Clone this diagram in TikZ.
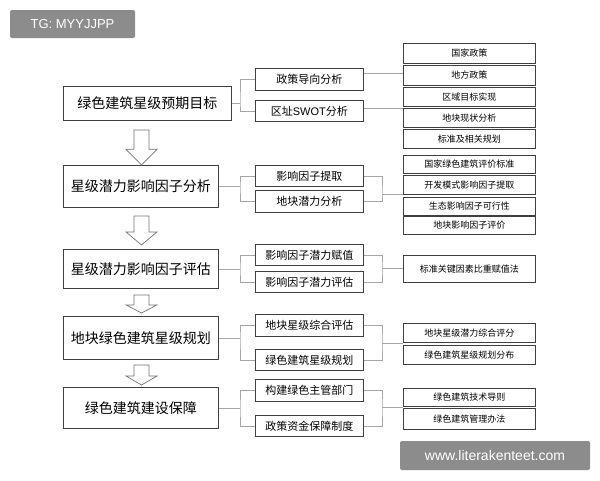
\documentclass[tikz,border=0pt]{standalone}
\usepackage{fontspec}
\setmainfont{Noto Sans CJK SC}
\newfontfamily\lat{Liberation Sans}
\begin{document}
\begin{tikzpicture}[x=1pt,y=-1pt,
  bx/.style={draw=black!75,line width=0.8pt,fill=white,inner sep=0pt,anchor=north west},
  ln/.style={draw=black!35,line width=0.7pt},
  harrow/.style={draw=black!55,line width=0.7pt,fill=white}]
\useasboundingbox (0,0) rectangle (600,480);
\fill[white] (0,0) rectangle (600,480);
\newcommand\mybox[6]{\node[bx,minimum width=#3-#1,minimum height=#4-#2,font=\fontsize{#6}{#6}\selectfont] (#5) at (#1,#2) {};}
% main boxes
\foreach \n/\ya/\yb/\xb/\t in {m1/86/120/231/绿色建筑星级预期目标,m2/165/207/218/星级潜力影响因子分析,m3/249/288/218/星级潜力影响因子评估,m4/316/359/218/地块绿色建筑星级规划,m5/387/428/218/绿色建筑建设保障}
  {\node[bx,minimum width=\xb-63,minimum height=\yb-\ya,font=\fontsize{14}{14}\selectfont] (\n) at (63,\ya) {\t};}
% middle boxes
\foreach \n/\ya/\yb/\t in {a1/68/90/政策导向分析,a2/100/121/区址{\lat SWOT}分析,b1/165/186/影响因子提取,b2/190/212/地块潜力分析,c1/244/265/影响因子潜力赋值,c2/271/292/影响因子潜力评估,d1/314/336/地块星级综合评估,d2/349/370/绿色建筑星级规划,e1/379/401/构建绿色主管部门,e2/415/436/政策资金保障制度}
  {\node[bx,minimum width=108,minimum height=\yb-\ya,font=\fontsize{11}{11}\selectfont] (\n) at (255,\ya) {\t};}
% right boxes
\foreach \n/\ya/\yb/\t in {r1/43/63/国家政策,r2/65/85/地方政策,r3/87/106/区域目标实现,r4/108/127/地块现状分析,r5/129/148/标准及相关规划,s1/155/173/国家绿色建筑评价标准,s2/175/194/开发模式影响因子提取,s3/197/215/生态影响因子可行性,s4/216/234/地块影响因子评价,t1/255/282/标准关键因素比重赋值法,u1/323/342/地块星级潜力综合评分,u2/345/364/绿色建筑星级规划分布,v1/388/406/绿色建筑技术导则,v2/408/429/绿色建筑管理办法}
  {\node[bx,minimum width=132,minimum height=\yb-\ya,font=\fontsize{9}{9}\selectfont] (\n) at (403,\ya) {\t};}
% hollow arrows
\foreach \ya/\yb in {130/165,216/245,295/313,365/385}
  {\path[harrow] (134,\ya) -- (149,\ya) -- (149,{\yb-(\yb-\ya)*0.45}) -- (157,{\yb-(\yb-\ya)*0.45}) -- (141.5,\yb) -- (126,{\yb-(\yb-\ya)*0.45}) -- (134,{\yb-(\yb-\ya)*0.45}) -- cycle;}
% left brackets
\foreach \m/\p/\q in {m1/a1/a2,m2/b1/b2,m3/c1/c2,m4/d1/d2,m5/e1/e2}{
  \path[ln] (\m.east) -- (\m.east -| 240,0);
  \path[ln] (\p.west) -| (240,0 |- \m.east) |- (\q.west);
}
% row 1
\path[ln] (a1.east |- 0,73) -- (r2.west |- 0,73);
\path[ln] (a2.east |- 0,108) -- (r4.west |- 0,108);
% right brackets
\foreach \p/\q/\y in {b1/b2/194,c1/c2/268,d1/d2/343,e1/e2/407}{
  \path[ln] (\p.east) -| (382,\y) |- (\q.east);
  \path[ln] (382,\y) -- (403,\y);
}
% watermarks
\fill[black!45,rounded corners=2pt] (10,10) rectangle (135,38);
\node[font=\lat\fontsize{13}{13}\selectfont,text=white] (w1) at (72.5,24) {TG: MYYJJPP};
\fill[black!45,rounded corners=2pt] (400,441) rectangle (590,470);
\node[font=\lat\fontsize{14}{14}\selectfont,text=white] (w2) at (495,455.5) {www.literakenteet.com};
\end{tikzpicture}
\end{document}
